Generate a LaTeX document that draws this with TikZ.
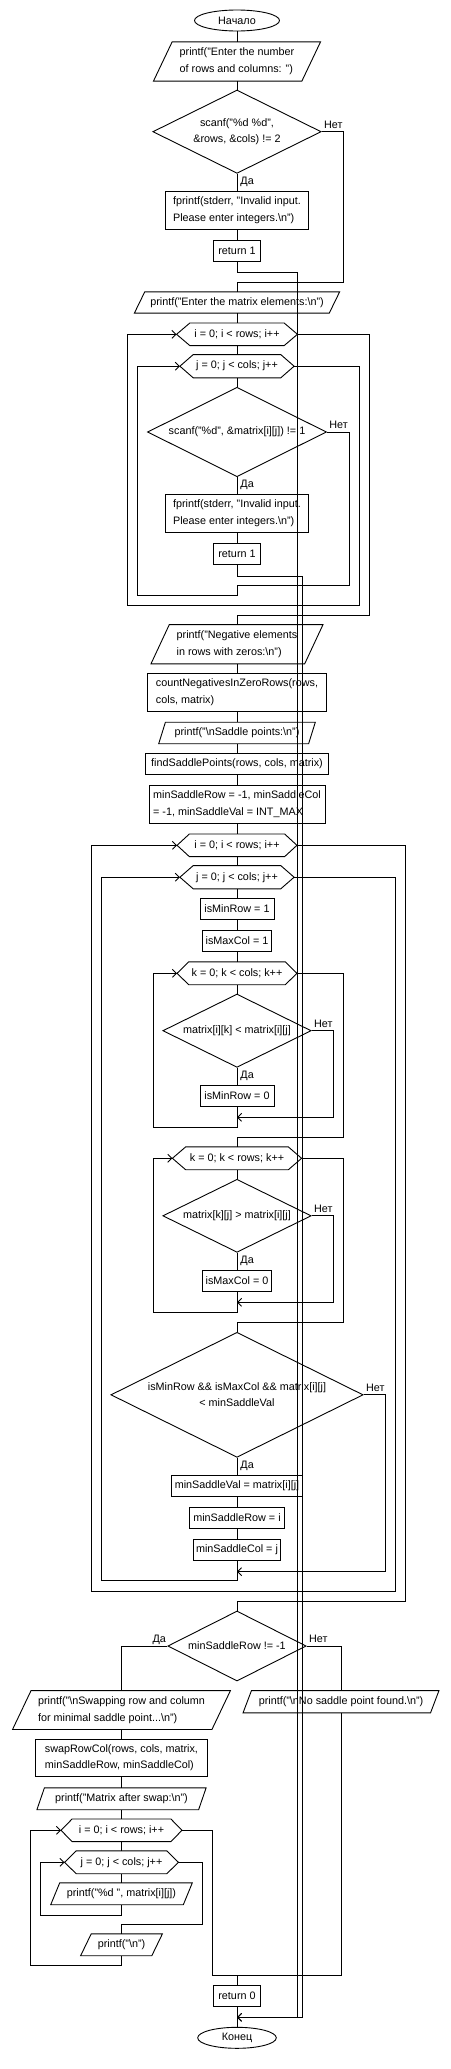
\documentclass[tikz,border=0pt]{standalone}
\usepackage{fontspec}
\setmainfont{Liberation Sans}
\usetikzlibrary{shapes.geometric,arrows.meta}

\newcommand\flowtextstyle{\fontsize{10.8}{16.6}\selectfont}
\newcommand\bsn{\textbackslash n}
\newcommand\dataframe[2]{
  \draw ([xshift=#2]#1.north west) -- ([xshift=#2]#1.north east)
    -- ([xshift=-#2]#1.south east) -- ([xshift=-#2]#1.south west) -- cycle ;
}
\newcommand\loopframe[2]{
  \draw (#1.west) -- ([xshift=#2]#1.north west) -- ([xshift=-#2]#1.north east)
    -- (#1.east) -- ([xshift=-#2]#1.south east) -- ([xshift=#2]#1.south west) -- cycle ;
}

\tikzset{
  every node/.style={font=\flowtextstyle},
  dims/.style 2 args={minimum width=#1pt, minimum height=#2pt},
  startstop/.style={draw, ellipse, inner sep=0pt},
  block/.style={draw, rectangle, inner sep=0pt, align=left},
  dataio/.style={rectangle, inner sep=0pt, align=left},
  loophead/.style={rectangle, inner sep=0pt, align=center},
  decision/.style={draw, diamond, aspect=2, inner sep=0pt, align=center},
  yeslabel/.style={anchor=west, inner sep=0pt, xshift=3pt, yshift=-8pt},
  nolabel/.style={anchor=west, inner sep=0pt, xshift=2pt, yshift=7pt},
  flow/.style={-{Straight Barb[length=4pt,width=8pt]}},
}

\begin{document}
\begin{tikzpicture}[x=1pt, y=-1pt, line width=0.9pt]
  \useasboundingbox (0,0) rectangle (450,2069) ;

  % input of the sizes
  \node[startstop, dims={85}{21}] (start) at (237,20.5) {Начало} ;
  \node[dataio, dims={147.5}{38.4}] (enterdims) at (237,61.5) {printf("Enter the number\\of rows and columns: ")} ;
  \dataframe{enterdims}{9.35pt}
  \node[decision, dims={168.4}{83.3}] (readdims) at (237,131.7) {scanf("\%d \%d",\\\&rows, \&cols) != 2} ;
  \node[block, dims={143}{38}] (dimserr) at (237,210) {fprintf(stderr, "Invalid input.\\Please enter integers.\bsn")} ;
  \node[block, dims={47}{21}] (quitdims) at (237,250.8) {return 1} ;

  % input of the matrix
  \node[dataio, dims={194}{20.4}] (entermat) at (237,302.5) {printf("Enter the matrix elements:\bsn")} ;
  \dataframe{entermat}{5.2pt}
  \node[loophead, dims={120}{21.7}] (readi) at (237,334.3) {i = 0; i < rows; i++} ;
  \loopframe{readi}{13.3pt}
  \node[loophead, dims={113.3}{22.3}] (readj) at (237,366.2) {j = 0; j < cols; j++} ;
  \loopframe{readj}{13.3pt}
  \node[decision, dims={179}{89.4}] (readcell) at (237,432) {scanf("\%d", \&matrix[i][j]) != 1} ;
  \node[block, dims={143}{38}] (cellerr) at (237,513.3) {fprintf(stderr, "Invalid input.\\Please enter integers.\bsn")} ;
  \node[block, dims={47}{21}] (quitcell) at (237,553.8) {return 1} ;

  \node[dataio, dims={152.8}{38.3}] (negtitle) at (237,644.2) {printf("Negative elements\\in rows with zeros:\bsn")} ;
  \dataframe{negtitle}{9.15pt}
  \node[block, dims={179.6}{37.7}] (countneg) at (237,692.2) {countNegativesInZeroRows(rows,\\cols, matrix)} ;
  \node[dataio, dims={149}{20.6}] (saddletitle) at (237,733) {printf("\bsn{}Saddle points:\bsn")} ;
  \dataframe{saddletitle}{3.35pt}
  \node[block, dims={183.6}{20.7}] (findsaddle) at (237,763.7) {findSaddlePoints(rows, cols, matrix)} ;
  \node[block, dims={176}{38.3}] (initsaddle) at (237,804.2) {minSaddleRow = -1, minSaddleCol\\= -1, minSaddleVal = INT\_MAX} ;

  % search of the saddle points
  \node[loophead, dims={119}{21.7}] (rowi) at (237,845.3) {i = 0; i < rows; i++} ;
  \loopframe{rowi}{12.3pt}
  \node[loophead, dims={113.3}{22.3}] (colj) at (237,877.2) {j = 0; j < cols; j++} ;
  \loopframe{colj}{13.3pt}
  \node[block, dims={74}{21}] (minrowset) at (237,908.8) {isMinRow = 1} ;
  \node[block, dims={69.6}{21}] (maxcolset) at (237,940.5) {isMaxCol = 1} ;
  \node[loophead, dims={119}{22}] (rowk) at (237,973.3) {k = 0; k < cols; k++} ;
  \loopframe{rowk}{11.7pt}
  \node[decision, dims={148.4}{73.3}] (rowtest) at (237,1030.7) {matrix[i][k] < matrix[i][j]} ;
  \node[block, dims={74}{21}] (minrowclear) at (237,1095.5) {isMinRow = 0} ;
  \node[loophead, dims={128.3}{22}] (colk) at (237,1158.3) {k = 0; k < rows; k++} ;
  \loopframe{colk}{13.3pt}
  \node[decision, dims={148.4}{73}] (coltest) at (237,1215.8) {matrix[k][j] > matrix[i][j]} ;
  \node[block, dims={69.6}{21.3}] (maxcolclear) at (237,1280.7) {isMaxCol = 0} ;
  \node[decision, dims={252.3}{125}] (saddletest) at (237,1394.8) {isMinRow \&\& isMaxCol \&\& matrix[i][j]\\< minSaddleVal} ;
  \node[block, dims={131}{21.4}] (keepval) at (237,1486) {minSaddleVal = matrix[i][j]} ;
  \node[block, dims={95}{21}] (keeprow) at (237,1517.8) {minSaddleRow = i} ;
  \node[block, dims={87}{21.3}] (keepcol) at (237,1549.7) {minSaddleCol = j} ;

  % swap and output
  \node[decision, dims={138.4}{70}] (foundtest) at (237,1646) {minSaddleRow != -1} ;
  \node[dataio, dims={198.5}{38}] (swaptitle) at (121.5,1710) {printf("\bsn{}Swapping row and column\\for minimal saddle point...\bsn")} ;
  \dataframe{swaptitle}{9.25pt}
  \node[dataio, dims={186.6}{21.3}] (nonefound) at (341,1701.7) {printf("\bsn{}No saddle point found.\bsn")} ;
  \dataframe{nonefound}{4.2pt}
  \node[block, dims={171.6}{37.7}] (swapcall) at (121.5,1757.8) {swapRowCol(rows, cols, matrix,\\minSaddleRow, minSaddleCol)} ;
  \node[dataio, dims={160.8}{21}] (swapped) at (121.5,1798.8) {printf("Matrix after swap:\bsn")} ;
  \dataframe{swapped}{3.75pt}
  \node[loophead, dims={120}{21.7}] (printi) at (121.5,1830.3) {i = 0; i < rows; i++} ;
  \loopframe{printi}{11pt}
  \node[loophead, dims={113}{22}] (printj) at (121.5,1862.3) {j = 0; j < cols; j++} ;
  \loopframe{printj}{11.7pt}
  \node[dataio, dims={131.7}{21}] (printcell) at (121.5,1893.8) {printf("\%d ", matrix[i][j])} ;
  \dataframe{printcell}{4.5pt}
  \node[dataio, dims={70.3}{21}] (printnl) at (121.5,1944.8) {printf("\bsn")} ;
  \dataframe{printnl}{5.3pt}
  \node[block, dims={47}{21}] (done) at (237,1995.8) {return 0} ;
  \node[startstop, dims={78.6}{21}] (finish) at (237,2037.8) {Конец} ;

  % branch labels
  \node[nolabel] (dimsno) at (readdims.east) {Нет} ;
  \node[yeslabel] (dimsyes) at (readdims.south) {Да} ;
  \node[nolabel] (cellno) at (readcell.east) {Нет} ;
  \node[yeslabel] (cellyes) at (readcell.south) {Да} ;
  \node[nolabel] (rowno) at (rowtest.east) {Нет} ;
  \node[yeslabel] (rowyes) at (rowtest.south) {Да} ;
  \node[nolabel] (colno) at (coltest.east) {Нет} ;
  \node[yeslabel] (colyes) at (coltest.south) {Да} ;
  \node[nolabel] (saddleno) at (saddletest.east) {Нет} ;
  \node[yeslabel] (saddleyes) at (saddletest.south) {Да} ;
  \node[nolabel] (foundno) at (foundtest.east) {Нет} ;
  \node[anchor=east, inner sep=0pt, xshift=-1pt, yshift=6pt] (foundyes) at (foundtest.west) {Да} ;

  % joins
  \coordinate (dimsok) at (237,282.3) ;
  \coordinate (cellnext) at (237,585.3) ;
  \coordinate (minrownext) at (237,1117.3) ;
  \coordinate (maxcolnext) at (237,1302.3) ;
  \coordinate (saddlenext) at (237,1571.7) ;
  \coordinate (afterprint) at (237,1975) ;
  \coordinate (exitjoin) at (237,2017.3) ;

  \draw (start.south) -- (enterdims.north) ;
  \draw (enterdims.south) -- (readdims.north) ;
  \draw (readdims.south) -- (dimserr.north) ;
  \draw (dimserr.south) -- (quitdims.north) ;
  \draw (readdims.east) -| (343.3,282.3) -- (dimsok) -- (entermat.north) ;
  \draw[flow] (quitdims.south) -- ++(0,11) -| (297.3,2017.3) -- (exitjoin) ;
  \draw (entermat.south) -- (readi.north) ;
  \draw (readi.south) -- (readj.north) ;
  \draw (readj.south) -- (readcell.north) ;
  \draw (readcell.south) -- (cellerr.north) ;
  \draw (cellerr.south) -- (quitcell.north) ;
  \draw[flow] (quitcell.south) -- ++(0,11.4) -| (302.3,2017.3) -- (exitjoin) ;
  \draw (readcell.east) -| (349.3,585.3) -- (cellnext) ;
  \draw[flow] (cellnext) -- ++(0,10) -| (137.7,366.2) -- (readj.west) ;
  \draw[flow] (readj.east) -| (359.3,605.3) -| (127.7,334.3) -- (readi.west) ;
  \draw (readi.east) -| (369.3,615) -| (negtitle.north) ;
  \draw (negtitle.south) -- (countneg.north) ;
  \draw (countneg.south) -- (saddletitle.north) ;
  \draw (saddletitle.south) -- (findsaddle.north) ;
  \draw (findsaddle.south) -- (initsaddle.north) ;
  \draw (initsaddle.south) -- (rowi.north) ;
  \draw (rowi.south) -- (colj.north) ;
  \draw (colj.south) -- (minrowset.north) ;
  \draw (minrowset.south) -- (maxcolset.north) ;
  \draw (maxcolset.south) -- (rowk.north) ;
  \draw (rowk.south) -- (rowtest.north) ;
  \draw (rowtest.south) -- (minrowclear.north) ;
  \draw (minrowclear.south) -- (minrownext) ;
  \draw[flow] (rowtest.east) -| (333.3,1117.3) -- (minrownext) ;
  \draw[flow] (minrownext) -- ++(0,10) -| (153.3,973.3) -- (rowk.west) ;
  \draw (rowk.east) -| (343.3,1137.3) -| (colk.north) ;
  \draw (colk.south) -- (coltest.north) ;
  \draw (coltest.south) -- (maxcolclear.north) ;
  \draw (maxcolclear.south) -- (maxcolnext) ;
  \draw[flow] (coltest.east) -| (333.3,1302.3) -- (maxcolnext) ;
  \draw[flow] (maxcolnext) -- ++(0,10) -| (153.3,1158.3) -- (colk.west) ;
  \draw (colk.east) -| (343.3,1322.3) -| (saddletest.north) ;
  \draw (saddletest.south) -- (keepval.north) ;
  \draw (keepval.south) -- (keeprow.north) ;
  \draw (keeprow.south) -- (keepcol.north) ;
  \draw (keepcol.south) -- (saddlenext) ;
  \draw[flow] (saddletest.east) -| (385.7,1571.7) -- (saddlenext) ;
  \draw[flow] (saddlenext) -- ++(0,8.3) -| (101.7,877.2) -- (colj.west) ;
  \draw[flow] (colj.east) -| (395.7,1591) -| (91.7,845.3) -- (rowi.west) ;
  \draw (rowi.east) -| (405.7,1601) -| (foundtest.north) ;
  \draw (foundtest.west) -| (swaptitle.north) ;
  \draw (foundtest.east) -| (nonefound.north) ;
  \draw (swaptitle.south) -- (swapcall.north) ;
  \draw (swapcall.south) -- (swapped.north) ;
  \draw (swapped.south) -- (printi.north) ;
  \draw (printi.south) -- (printj.north) ;
  \draw (printj.south) -- (printcell.north) ;
  \draw[flow] (printcell.south) -- ++(0,10.2) -| (40.7,1862.3) -- (printj.west) ;
  \draw (printj.east) -| (202.3,1924) -| (printnl.north) ;
  \draw[flow] (printnl.south) -- ++(0,9.7) -| (30.7,1830.3) -- (printi.west) ;
  \draw (printi.east) -| (212.3,1975) -| (done.north) ;
  \draw (nonefound.south) |- (afterprint) ;
  \draw (done.south) -- (finish.north) ;
\end{tikzpicture}
\end{document}
